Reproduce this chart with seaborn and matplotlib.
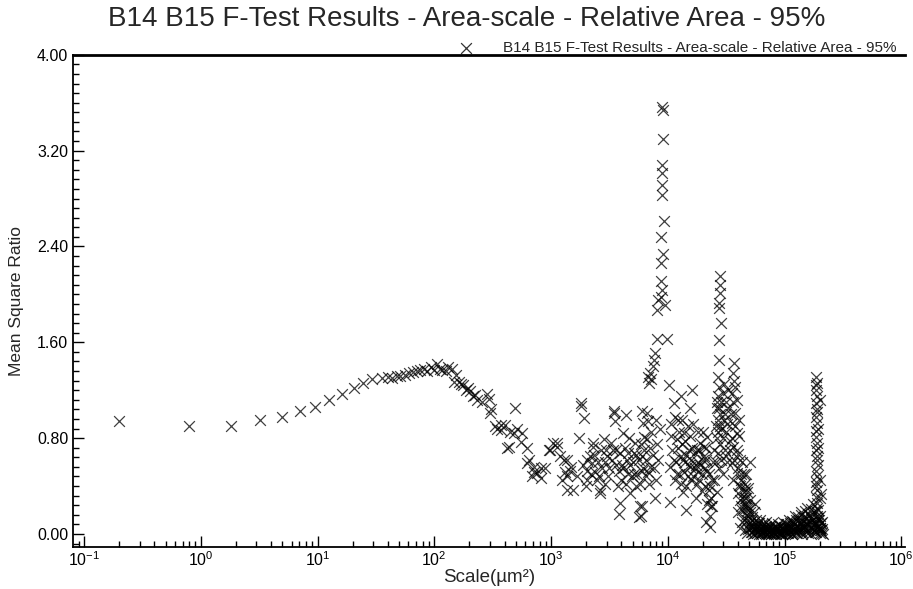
#!/usr/bin/env python3
"""
B14 B15 F-Test Results - Area-scale - Relative Area - 95%
Scatter of mean square ratio against area scale (log axis), recreated with seaborn.
"""
import numpy as np
import pandas as pd
import seaborn as sns
import matplotlib.pyplot as plt
from matplotlib.ticker import MultipleLocator, LogLocator, FixedLocator, FuncFormatter, NullFormatter

TITLE = "B14 B15 F-Test Results - Area-scale - Relative Area - 95%"
DECADES = [-1, 0, 1, 2, 3, 4, 5, 6]

# values: scale given as log10(µm²), ratio on the y axis
smooth_lx = [-0.70, -0.10, 0.26, 0.51, 0.70, 0.85, 0.98, 1.10, 1.21, 1.31, 1.39, 1.47,
             1.55, 1.60, 1.64, 1.68, 1.71, 1.75, 1.78, 1.82, 1.85, 1.88, 1.91, 1.94,
             1.97, 2.00, 2.02, 2.05, 2.07, 2.10, 2.12, 2.15, 2.17, 2.19, 2.21, 2.23,
             2.25, 2.27, 2.29, 2.31, 2.33, 2.35, 2.37]
smooth_y = [0.94, 0.90, 0.90, 0.95, 0.98, 1.03, 1.06, 1.12, 1.17, 1.22, 1.26, 1.29,
            1.30, 1.31, 1.30, 1.32, 1.32, 1.33, 1.34, 1.35, 1.36, 1.37, 1.38, 1.36,
            1.39, 1.37, 1.42, 1.38, 1.37, 1.36, 1.39, 1.38, 1.27, 1.33, 1.27, 1.25,
            1.24, 1.20, 1.22, 1.19, 1.15, 1.16, 1.12]

descent_lx = [2.41, 2.45, 2.47, 2.48, 2.49, 2.52, 2.54, 2.57, 2.57, 2.61, 2.62, 2.64,
              2.65, 2.68, 2.69, 2.71, 2.74, 2.75, 2.79, 2.79, 2.81, 2.84, 2.85, 2.85,
              2.88, 2.91, 2.91, 2.95, 2.98, 2.99, 3.02, 3.05, 3.05, 3.08, 3.09, 3.11,
              3.12, 3.14, 3.14, 3.14, 3.16, 3.17, 3.19, 3.22, 3.24, 3.26, 3.26, 3.28,
              3.31, 3.31, 3.35, 3.36, 3.36, 3.39, 3.42, 3.42]
descent_y = [1.10, 1.17, 1.13, 1.01, 1.04, 0.90, 0.88, 0.87, 0.91, 0.91, 0.72, 0.73,
             0.85, 0.84, 1.05, 0.88, 0.77, 0.84, 0.72, 0.59, 0.62, 0.48, 0.56, 0.52,
             0.51, 0.47, 0.55, 0.55, 0.70, 0.70, 0.76, 0.73, 0.76, 0.65, 0.45, 0.62,
             0.52, 0.62, 0.37, 0.48, 0.53, 0.56, 0.37, 0.48, 0.80, 1.09, 1.07, 0.97,
             0.53, 0.45, 0.59, 0.73, 0.76, 0.45, 0.34, 0.37]

mid_lx = [3.45, 3.48, 3.51, 3.54, 3.54, 3.55, 3.56, 3.58, 3.59, 3.58, 3.62, 3.64,
          3.65, 3.68, 3.69, 3.72, 3.75, 3.76, 3.75, 3.78, 3.82, 3.83, 3.82, 3.85,
          3.50, 3.46, 3.40, 3.33, 3.30, 3.60, 3.70, 3.73, 3.80, 3.86, 3.87, 3.84,
          3.78, 3.79, 3.80, 3.78, 3.79, 3.81, 3.78, 3.77, 3.44, 3.52, 3.57, 3.63,
          3.66, 3.71, 3.74, 3.67, 3.61, 3.47, 3.38, 3.27,
          3.31, 3.34, 3.37, 3.41, 3.43, 3.46, 3.49, 3.53, 3.56, 3.59, 3.62, 3.64,
          3.66, 3.68, 3.71, 3.73, 3.76, 3.77, 3.81, 3.83, 3.85, 3.88, 3.90, 3.91,
          3.92, 3.93, 3.90, 3.89]
mid_y = [0.79, 0.65, 0.76, 1.03, 1.01, 0.94, 0.70, 0.53, 0.26, 0.17, 0.84, 0.99,
         0.62, 0.34, 0.48, 0.76, 0.62, 0.23, 0.14, 0.53, 1.01, 0.94, 0.79, 0.56,
         0.55, 0.42, 0.60, 0.65, 0.40, 0.45, 0.60, 0.40, 0.70, 0.85, 0.66, 0.42,
         1.03, 0.93, 0.81, 0.65, 0.55, 0.48, 0.23, 0.15, 0.55, 0.62, 0.40, 0.72,
         0.50, 0.68, 0.50, 0.80, 0.58, 0.70, 0.52, 0.58,
         0.62, 0.50, 0.66, 0.48, 0.70, 0.60, 0.48, 0.70, 0.58, 0.68, 0.55, 0.42,
         0.68, 0.58, 0.50, 0.66, 0.42, 0.75, 0.62, 0.52, 0.72, 0.55, 0.95, 0.75,
         0.62, 0.88, 0.45, 0.30]

peak_lx = [3.95, 3.96, 3.96, 3.95, 3.95, 3.95, 3.95, 3.97, 3.94, 3.96, 3.94, 3.94,
           3.95, 3.92, 3.98, 3.91, 3.94, 3.99, 3.91, 3.89, 3.88, 3.85, 3.86, 3.83,
           3.87, 3.84, 4.01]
peak_y = [3.56, 3.54, 3.30, 3.08, 3.01, 2.91, 2.83, 2.61, 2.48, 2.34, 2.26, 2.11,
          2.04, 1.95, 1.91, 1.87, 1.98, 1.63, 1.63, 1.51, 1.45, 1.34, 1.29, 1.31,
          1.40, 1.26, 1.24]

post_lx = [4.02, 4.02, 4.03, 4.05, 4.08, 4.11, 4.11, 4.14, 4.16, 4.16, 4.19, 4.21,
           4.22, 4.25, 4.28, 4.31, 4.34, 4.35, 4.36, 4.38, 4.34, 4.04, 4.06, 4.07,
           4.09, 4.10, 4.12, 4.13, 4.15, 4.17, 4.18, 4.20, 4.23, 4.24, 4.26, 4.27,
           4.29, 4.30, 4.32, 4.33, 4.37, 4.39, 4.40, 4.12, 4.19, 4.26, 4.31, 4.33,
           4.36, 4.37, 4.36, 4.35,
           4.03, 4.05, 4.06, 4.08, 4.09, 4.10, 4.11, 4.13, 4.14, 4.15, 4.16, 4.17,
           4.18, 4.19, 4.20, 4.21, 4.22, 4.23, 4.24, 4.25, 4.26, 4.27, 4.28, 4.29,
           4.30, 4.32, 4.33, 4.34, 4.35, 4.38, 4.40, 4.41]
post_y = [0.56, 0.27, 0.92, 1.09, 0.79, 1.15, 0.65, 0.84, 0.20, 0.40, 0.56, 1.20,
          0.92, 0.70, 0.76, 0.65, 0.53, 0.37, 0.15, 0.23, 0.81, 0.70, 0.45, 0.60,
          0.95, 0.50, 0.75, 0.35, 0.60, 0.90, 0.70, 0.45, 0.55, 0.30, 0.60, 0.45,
          0.50, 0.85, 0.40, 0.10, 0.30, 0.60, 0.45, 0.95, 1.05, 0.85, 0.73, 0.62,
          0.40, 0.23, 0.06, 0.28,
          0.82, 0.62, 0.98, 0.50, 0.72, 0.85, 0.42, 0.62, 0.52, 0.78, 0.66, 0.48,
          0.58, 0.82, 0.62, 0.72, 0.48, 0.68, 0.58, 0.42, 0.52, 0.70, 0.58, 0.36,
          0.62, 0.55, 0.72, 0.25, 0.50, 0.45, 0.70, 0.60]

ridge_lx = [4.45, 4.45, 4.45, 4.44, 4.44, 4.46, 4.44, 4.44, 4.43, 4.44, 4.43, 4.42,
            4.45, 4.43, 4.46, 4.42, 4.45, 4.43, 4.46, 4.44, 4.42, 4.47, 4.41,
            4.57, 4.56, 4.58, 4.59, 4.58, 4.55, 4.59, 4.56, 4.60, 4.55, 4.59, 4.56,
            4.60, 4.63, 4.60, 4.61, 4.57, 4.55, 4.52, 4.50, 4.53, 4.61, 4.62, 4.64,
            4.65, 4.62, 4.48, 4.49, 4.50, 4.51, 4.47,
            4.42, 4.43, 4.44, 4.45, 4.46, 4.47, 4.48, 4.49, 4.50, 4.51, 4.52, 4.53,
            4.54, 4.55, 4.56, 4.57, 4.58, 4.59, 4.60, 4.61, 4.62, 4.63, 4.64, 4.65,
            4.66,
            4.63, 4.64, 4.65, 4.66, 4.67, 4.68, 4.69, 4.62, 4.64]
ridge_y = [2.15, 2.08, 2.01, 1.93, 1.89, 1.76, 1.62, 1.45, 1.31, 1.23, 1.15, 1.05,
           1.00, 0.95, 0.88, 0.80, 0.75, 0.68, 0.62, 0.55, 1.10, 1.18, 0.90,
           1.43, 1.34, 1.23, 1.12, 1.01, 0.93, 0.84, 0.73, 0.67, 0.59, 0.51, 0.45,
           0.34, 0.23, 0.18, 0.41, 1.28, 1.18, 1.05, 0.85, 0.78, 0.95, 0.62, 0.30,
           0.12, 0.05, 0.95, 0.70, 1.10, 0.60, 0.50,
           0.35, 0.85, 1.05, 0.90, 1.10, 0.80, 1.25, 1.00, 0.65, 0.92, 1.20, 0.70,
           1.00, 0.80, 1.10, 0.62, 0.90, 0.70, 0.55, 0.82, 0.40, 0.50, 0.20, 0.35,
           0.25,
           0.45, 0.60, 0.50, 0.38, 0.30, 0.24, 0.20, 0.28, 0.10]

floor_lx = [4.66, 4.68, 4.70, 4.71, 4.73, 4.75, 4.76, 4.78, 4.80, 4.81, 4.83, 4.85,
            4.86, 4.88, 4.90, 4.91, 4.93, 4.95, 4.96, 4.98, 5.00, 5.01, 5.03, 5.05,
            5.06, 5.08, 5.10, 5.11, 5.13, 5.15, 5.16, 5.18, 5.20, 5.21, 5.23, 5.25,
            5.26, 5.28, 5.30, 5.31, 5.33,
            4.67, 4.69, 4.70, 4.72, 4.74, 4.77, 4.79, 4.82, 4.84, 4.87, 4.89, 4.92,
            4.94, 4.97, 4.99, 5.02, 5.04, 5.07, 5.09, 5.12, 5.14, 5.17, 5.19, 5.22,
            5.24, 5.27, 5.29, 5.32, 5.18, 5.23, 5.12, 5.26, 4.75, 4.68, 4.66, 4.67,
            4.69, 4.70,
            4.665, 4.675, 4.685, 4.695, 4.705, 4.715, 4.725, 4.735, 4.745, 4.755,
            4.765, 4.775, 4.785, 4.795, 4.805, 4.815, 4.825, 4.835, 4.845, 4.855,
            4.865, 4.875, 4.885, 4.895, 4.905, 4.915, 4.925, 4.935, 4.945, 4.955,
            4.965, 4.975, 4.985, 4.995, 5.005, 5.015, 5.025, 5.035, 5.045, 5.055,
            5.065, 5.075, 5.085, 5.095, 5.105, 5.115, 5.125, 5.135, 5.145, 5.155,
            5.165, 5.175, 5.185, 5.195, 5.205, 5.215, 5.225, 5.235, 5.245, 5.255,
            5.265, 5.275, 5.285, 5.295, 5.305, 5.315, 5.325,
            4.672, 4.688, 4.702, 4.718, 4.732, 4.748, 4.762, 4.778, 4.792, 4.808,
            4.822, 4.838, 4.852, 4.868, 4.882, 4.898, 4.912, 4.928, 4.942, 4.958,
            4.972, 4.988, 5.002, 5.018, 5.032, 5.048, 5.062, 5.078, 5.092, 5.108,
            5.122, 5.138, 5.152, 5.168, 5.182, 5.198, 5.212, 5.228, 5.242, 5.258,
            5.272, 5.288, 5.302, 5.318]
floor_y = [0.03, 0.01, 0.05, 0.02, 0.00, 0.04, 0.01, 0.03, 0.00, 0.02, 0.05, 0.01,
           0.00, 0.03, 0.02, 0.00, 0.04, 0.01, 0.02, 0.00, 0.03, 0.01, 0.05, 0.02,
           0.00, 0.04, 0.01, 0.03, 0.02, 0.00, 0.05, 0.02, 0.01, 0.04, 0.00, 0.03,
           0.02, 0.05, 0.01, 0.03, 0.00,
           0.22, 0.15, 0.28, 0.12, 0.18, 0.09, 0.12, 0.08, 0.10, 0.07, 0.09, 0.06,
           0.08, 0.07, 0.10, 0.08, 0.12, 0.10, 0.15, 0.12, 0.18, 0.14, 0.22, 0.16,
           0.25, 0.19, 0.13, 0.10, 0.08, 0.10, 0.06, 0.08, 0.25, 0.35, 0.42, 0.50,
           0.38, 0.60,
           0.30, 0.12, 0.22, 0.08, 0.18, 0.06, 0.14, 0.10, 0.04, 0.12,
           0.07, 0.02, 0.09, 0.05, 0.08, 0.03, 0.06, 0.01, 0.07, 0.04,
           0.02, 0.06, 0.03, 0.05, 0.01, 0.04, 0.06, 0.02, 0.05, 0.03,
           0.07, 0.01, 0.04, 0.06, 0.02, 0.08, 0.05, 0.03, 0.09, 0.06,
           0.11, 0.04, 0.08, 0.12, 0.06, 0.14, 0.09, 0.05, 0.16, 0.11,
           0.07, 0.19, 0.13, 0.08, 0.17, 0.10, 0.21, 0.12, 0.06, 0.18,
           0.09, 0.15, 0.07, 0.12, 0.05, 0.09, 0.04,
           0.16, 0.04, 0.10, 0.02, 0.07, 0.01, 0.05, 0.00, 0.03, 0.01,
           0.02, 0.00, 0.03, 0.01, 0.00, 0.02, 0.01, 0.00, 0.02, 0.00,
           0.01, 0.03, 0.00, 0.02, 0.01, 0.04, 0.00, 0.03, 0.05, 0.01,
           0.04, 0.08, 0.02, 0.06, 0.10, 0.03, 0.07, 0.13, 0.04, 0.09,
           0.02, 0.06, 0.03, 0.01]

edge_lx = [5.27, 5.28, 5.27, 5.28, 5.27, 5.28, 5.27, 5.28, 5.27, 5.28, 5.27, 5.28,
           5.27, 5.28, 5.27, 5.28, 5.27, 5.28, 5.29, 5.30, 5.29, 5.31, 5.30, 5.29,
           5.29, 5.30, 5.27, 5.28, 5.27, 5.28, 5.27, 5.28, 5.29, 5.30, 5.29, 5.30]
edge_y = [1.31, 1.26, 1.20, 1.15, 1.09, 1.04, 0.98, 0.93, 0.81, 0.76, 0.70, 0.65,
          0.53, 0.48, 0.43, 0.37, 0.31, 0.26, 0.20, 0.15, 0.09, 0.33, 0.45, 0.58,
          0.88, 1.12, 1.24, 1.02, 0.86, 0.62, 0.40, 0.22, 0.12, 0.30, 0.72, 0.05]


def build_frame():
    lx = smooth_lx + descent_lx + mid_lx + peak_lx + post_lx + ridge_lx + floor_lx + edge_lx
    y = smooth_y + descent_y + mid_y + peak_y + post_y + ridge_y + floor_y + edge_y
    return pd.DataFrame({"scale": np.power(10.0, lx), "ratio": y})


def main():
    df = build_frame()

    sns.set_style("ticks")
    plt.rcParams['font.family'] = ['Liberation Sans', 'DejaVu Sans']
    plt.rcParams['mathtext.fontset'] = 'custom'
    plt.rcParams['mathtext.rm'] = 'Liberation Sans'
    plt.rcParams['mathtext.it'] = 'Liberation Sans:italic'
    plt.rcParams['mathtext.bf'] = 'Liberation Sans:bold'

    fig = plt.figure(figsize=(9.13, 5.89), dpi=100)
    ax = fig.add_axes([0.080, 0.071, 0.911, 0.836])

    sns.scatterplot(data=df, x="scale", y="ratio", marker="x", color="black",
                    s=60, linewidth=0.9, alpha=0.75, label=TITLE, ax=ax)

    ax.set_xscale("log")
    ax.set_xlim(10 ** -1.094, 10 ** 6.03)
    ax.set_ylim(-0.11, 4.0)

    # y ticks: majors every 0.8, minors every 0.08, pointing in
    ax.set_yticks([0.0, 0.8, 1.6, 2.4, 3.2, 4.0])
    ax.yaxis.set_minor_locator(MultipleLocator(0.08))
    ax.yaxis.set_major_formatter(FuncFormatter(lambda v, _: f"{v:.2f}"))

    ax.xaxis.set_major_locator(FixedLocator([10.0 ** d for d in DECADES]))
    ax.xaxis.set_minor_locator(LogLocator(base=10, subs=np.arange(2, 10), numticks=20))
    ax.xaxis.set_minor_formatter(NullFormatter())
    ax.xaxis.set_major_formatter(
        FuncFormatter(lambda v, _: r"$10^{%d}$" % int(round(np.log10(v)))))

    ax.tick_params(which="both", direction="in", top=False, right=False,
                   colors="black", width=1)
    ax.tick_params(axis="y", labelsize=11.5)
    ax.tick_params(axis="x", labelsize=11.5, pad=2)
    ax.tick_params(which="major", length=8)
    ax.tick_params(which="minor", length=4.5)

    for side in ("left", "bottom"):
        ax.spines[side].set_linewidth(1.3)
        ax.spines[side].set_color("black")
    ax.spines["top"].set_linewidth(2.0)
    ax.spines["top"].set_color("black")
    ax.spines["right"].set_visible(False)

    ax.set_xlabel("Scale(µm²)", fontsize=13.5, labelpad=0)
    ax.set_ylabel("Mean Square Ratio", fontsize=12.5, labelpad=9)

    fig.suptitle(TITLE, x=0.511, y=0.99, fontsize=20, va="top")

    leg = ax.legend(loc="lower right", bbox_to_anchor=(0.992, 0.996), frameon=False,
                    fontsize=11, handletextpad=1.4, borderaxespad=0, borderpad=0.1)
    for h in leg.legend_handles:
        h.set_alpha(0.8)

    fig.savefig("out.png", dpi=100)
    plt.close(fig)


if __name__ == "__main__":
    main()
